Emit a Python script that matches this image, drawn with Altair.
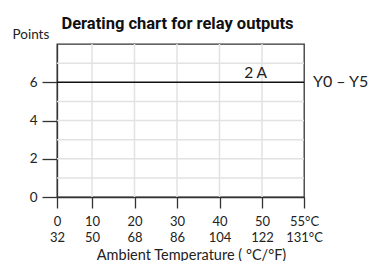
import altair as alt
import pandas as pd

# Data
temp_c = [0, 10, 20, 30, 40, 50, 55]
temp_c_labels = ["0", "10", "20", "30", "40", "50", "55°C"]
temp_f_labels = ["32", "50", "68", "86", "104", "122", "131°C"]
grid_c = [10, 20, 30, 40, 50]
grid_points = [1, 2, 3, 4, 5, 7]
line_x = [0, 55]
line_points = [6, 6]
y_ticks = [0, 1, 2, 3, 4, 5, 6, 7]
current_label = "2 A"
current_x = 48.5
series_label = "Y0 – Y5"

FONT = "Lato"
AX = "#333333"
GRID = "#e2e2e2"

df = pd.DataFrame({"temp": line_x, "points": line_points})

c_js = "[" + ",".join(f"'{s}'" for s in temp_c_labels) + "]"
f_js = "[" + ",".join(f"'{s}'" for s in temp_f_labels) + "]"
v_js = "[" + ",".join(str(v) for v in temp_c) + "]"
label_expr = f"[{c_js}[indexof({v_js}, datum.value)], {f_js}[indexof({v_js}, datum.value)]]"

xscale = alt.Scale(domain=[0, 10, 50, 55], range=[0, 35, 205, 247])
yscale = alt.Scale(domain=[0, 8])

xaxis = alt.Axis(
    values=temp_c, labelExpr=label_expr, tickSize=11, tickColor=AX, domainColor=AX,
    tickWidth=1.3, domainWidth=1.3, labelOverlap=False, labelFlush=False, labelBound=False,
    labelFont=FONT, labelFontSize=13, labelColor="#222", labelLineHeight=16,
    labelPadding=7, labelAngle=0,
    title="Ambient Temperature ( °C/°F)", titleFont=FONT, titleFontSize=14.5,
    titleFontWeight="normal", titleColor="#222", titlePadding=4, titleX=134,
    grid=False,
)
yaxis = alt.Axis(
    values=y_ticks, labelExpr="datum.value % 2 == 0 ? datum.value : ''",
    tickSize=15, tickColor=AX, domainColor=AX, tickWidth=1.3, domainWidth=1.3,
    labelFont=FONT, labelFontSize=13.5, labelColor="#222", labelPadding=5,
    labelOverlap=False, labelFlush=False,
    title="Points", titleFont=FONT, titleFontSize=13.5, titleFontWeight="normal",
    titleColor="#222", titleAngle=0, titleAlign="left", titleBaseline="alphabetic",
    titleX=-45, titleY=-6,
    grid=False,
)

vgrid = alt.Chart(pd.DataFrame({"temp": grid_c})).mark_rule(
    color=GRID, strokeWidth=1.5
).encode(x=alt.X("temp:Q", scale=xscale, axis=xaxis))

hgrid = alt.Chart(pd.DataFrame({"points": grid_points})).mark_rule(
    color=GRID, strokeWidth=1.5
).encode(y=alt.Y("points:Q", scale=yscale, axis=yaxis))

line = alt.Chart(df).mark_line(color="#111", strokeWidth=1.5).encode(
    x=alt.X("temp:Q", scale=xscale),
    y=alt.Y("points:Q", scale=yscale),
)

lab_df = pd.DataFrame({"temp": [current_x], "points": [line_points[0]], "t": [current_label]})
cur = alt.Chart(lab_df).mark_text(
    font=FONT, fontSize=15.5, color="#222", baseline="alphabetic", dy=-4, align="center"
).encode(x=alt.X("temp:Q", scale=xscale), y=alt.Y("points:Q", scale=yscale), text="t:N")

ser_df = pd.DataFrame({"temp": [line_x[-1]], "points": [line_points[-1]], "t": [series_label]})
ser = alt.Chart(ser_df).mark_text(
    font=FONT, fontSize=16, color="#222", baseline="middle", dx=9, align="left"
).encode(x=alt.X("temp:Q", scale=xscale), y=alt.Y("points:Q", scale=yscale), text="t:N")

chart = alt.layer(vgrid, hgrid, line, cur, ser).properties(
    width=247, height=153,
    autosize=alt.AutoSizeParams(type="none"),
    padding={"left": 49, "top": 36, "right": 66, "bottom": 64},
    title=alt.TitleParams(
        "Derating chart for relay outputs", font="Roboto", fontSize=16.5,
        fontWeight="bold", color="#111", anchor="middle", baseline="alphabetic",
        offset=0, dy=18, dx=-3, frame="group",
    ),
).configure_view(stroke=AX, strokeWidth=1.3)

chart.save("out.html", embed_options={"renderer": "svg", "actions": False})
